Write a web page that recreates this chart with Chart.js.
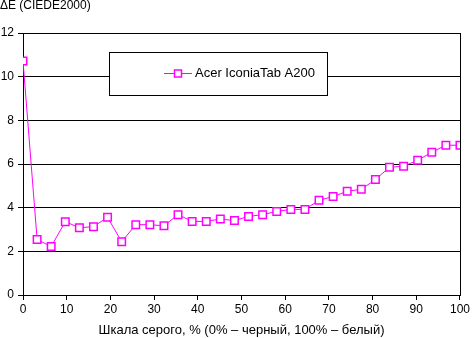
<!DOCTYPE html>
<html>
<head>
<meta charset="utf-8">
<script src="https://cdn.jsdelivr.net/npm/chart.js@4/dist/chart.umd.min.js"></script>
<style>
html,body{margin:0;padding:0;background:#fff;}
#wrap{position:relative;width:472px;height:338px;}
</style>
</head>
<body>
<div id="wrap"><canvas id="c" width="472" height="338"></canvas></div>
<script>
const seriesLabel = 'Acer IconiaTab A200';
const yTitle = 'ΔE (CIEDE2000)';
const xTitle = 'Шкала серого, % (0% – черный, 100% – белый)';
const grayPercent = [0,3.23,6.45,9.68,12.9,16.13,19.35,22.58,25.81,29.03,32.26,35.48,38.71,41.94,45.16,48.39,51.61,54.84,58.06,61.29,64.52,67.74,70.97,74.19,77.42,80.65,83.87,87.1,90.32,93.55,96.77,100];
const deltaE = [10.72,2.54,2.22,3.36,3.08,3.13,3.56,2.44,3.22,3.22,3.17,3.68,3.37,3.37,3.48,3.41,3.60,3.68,3.83,3.92,3.92,4.34,4.51,4.75,4.84,5.29,5.85,5.90,6.17,6.54,6.86,6.86];
const xTicks = [0,10,20,30,40,50,60,70,80,90,100];
const yTicks = [0,2,4,6,8,10,12];

const FONT = 'Liberation Sans, Arial, sans-serif';
const MAG = '#ff00ff';

const extras = {
  id: 'extras',
  afterDraw(chart) {
    const ctx = chart.ctx;
    const a = chart.chartArea;
    ctx.save();
    // right border
    ctx.strokeStyle = '#000';
    ctx.lineWidth = 1;
    ctx.beginPath();
    ctx.moveTo(Math.round(a.right) + 0.5, Math.round(a.top));
    ctx.lineTo(Math.round(a.right) + 0.5, Math.round(a.bottom) + 1);
    ctx.stroke();
    // y title
    ctx.fillStyle = '#000';
    ctx.font = '12px ' + FONT;
    ctx.textBaseline = 'middle';
    ctx.textAlign = 'left';
    ctx.fillText(yTitle, 0, 6);
    // legend box
    const bx = 109.5, by = 52.5, bw = 218, bh = 43;
    ctx.fillStyle = '#fff';
    ctx.fillRect(bx, by, bw, bh);
    ctx.strokeStyle = '#000';
    ctx.strokeRect(bx, by, bw, bh);
    const ly = 73.5;
    ctx.strokeStyle = MAG;
    ctx.beginPath();
    ctx.moveTo(164, ly); ctx.lineTo(192, ly);
    ctx.stroke();
    ctx.fillStyle = '#fff';
    ctx.fillRect(174.5, 70, 7, 7);
    ctx.lineWidth = 1.5;
    ctx.strokeRect(174.5, 70, 7, 7);
    ctx.fillStyle = '#000';
    ctx.font = '13px ' + FONT;
    ctx.fillText(chart.data.datasets[0].label, 195, ly);
    ctx.restore();
  }
};

new Chart(document.getElementById('c'), {
  type: 'line',
  data: {
    datasets: [{
      label: seriesLabel,
      data: grayPercent.map((x, i) => ({x: x, y: deltaE[i]})),
      borderColor: MAG,
      borderWidth: 1,
      backgroundColor: '#fff',
      pointStyle: 'rect',
      pointRadius: 5.3,
      pointBorderWidth: 1.5,
      pointBorderColor: MAG,
      pointBackgroundColor: '#fff',
      tension: 0
    }]
  },
  options: {
    responsive: false,
    animation: false,
    devicePixelRatio: 1,
    layout: {padding: {top: 33, right: 10, left: 0, bottom: 0}},
    plugins: {legend: {display: false}, title: {display: false}, tooltip: {enabled: false}},
    scales: {
      x: {
        type: 'linear',
        min: 0, max: 100,
        afterFit(s) { s.height = 43; },
        afterBuildTicks(s) { s.ticks = xTicks.map(v => ({value: v})); },
        grid: {drawOnChartArea: false, drawTicks: true, tickLength: 5, color: '#000'},
        border: {display: true, color: '#000'},
        ticks: {color: '#000', font: {family: FONT, size: 12}, padding: 2, maxRotation: 0},
        title: {display: true, text: xTitle, color: '#000', font: {family: FONT, size: 13}, padding: {top: 0, bottom: 0}}
      },
      y: {
        min: 0, max: 12,
        afterFit(s) { s.width = 23; },
        afterBuildTicks(s) { s.ticks = yTicks.map(v => ({value: v})); },
        grid: {color: '#000', tickLength: 5, drawTicks: true},
        border: {display: true, color: '#000'},
        ticks: {color: '#000', font: {family: FONT, size: 12}, padding: 4}
      }
    }
  },
  plugins: [extras]
});
</script>
</body>
</html>
